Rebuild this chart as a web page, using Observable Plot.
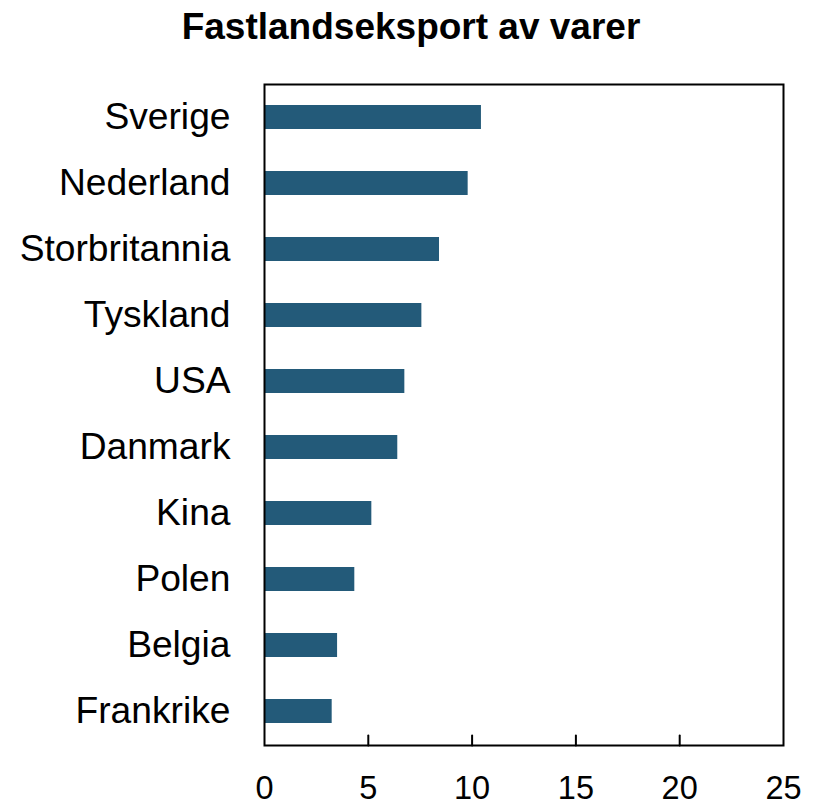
<!DOCTYPE html>
<html><head><meta charset="utf-8">
<script src="https://cdn.jsdelivr.net/npm/d3@7"></script>
<script src="https://cdn.jsdelivr.net/npm/@observablehq/plot@0.6"></script>
<style>
body{margin:0;background:#fff;width:816px}
#title{box-sizing:border-box;height:60px;padding-top:8px;padding-left:6px;text-align:center;font:bold 37px/37px "Liberation Sans",Arial,sans-serif;color:#000}
</style>
</head><body>
<div id="title">Fastlandseksport av varer</div>
<div id="chart"></div>
<script>
const countries = ["Sverige","Nederland","Storbritannia","Tyskland","USA","Danmark","Kina","Polen","Belgia","Frankrike"];
const values = [10.45, 9.81, 8.43, 7.58, 6.76, 6.42, 5.17, 4.35, 3.52, 3.26];
const xTicks = [0, 5, 10, 15, 20, 25];
const innerTicks = [5, 10, 15, 20];

const data = countries.map((c, i) => ({country: c, value: values[i]}));
const tickShape = {draw(ctx, l) { ctx.moveTo(0, 0); ctx.lineTo(0, -l); }};

const plot = Plot.plot({
  width: 816, height: 748,
  marginTop: 24, marginBottom: 63, marginLeft: 264, marginRight: 33,
  style: {fontFamily: "'Liberation Sans', Arial, sans-serif", background: "#fff", color: "#000"},
  x: {domain: [0, 25]},
  y: {domain: countries, paddingInner: 0.636, paddingOuter: 0.318},
  marks: [
    Plot.barX(data, {x: "value", y: "country", fill: "#235a79"}),
    Plot.axisY({tickSize: 0, tickPadding: 34, fontSize: 37.2, fill: "#000", label: null}),
    Plot.axisX({ticks: xTicks, tickSize: 0, tickPadding: 30, fontSize: 32.5, fill: "#000", label: null}),
    Plot.vector(innerTicks, {x: d => d, frameAnchor: "bottom", anchor: "start", length: 10, shape: tickShape, stroke: "#000", strokeWidth: 2}),
    Plot.frame({stroke: "#000", strokeWidth: 2})
  ]
});
document.getElementById("chart").appendChild(plot);
</script>
</body></html>
